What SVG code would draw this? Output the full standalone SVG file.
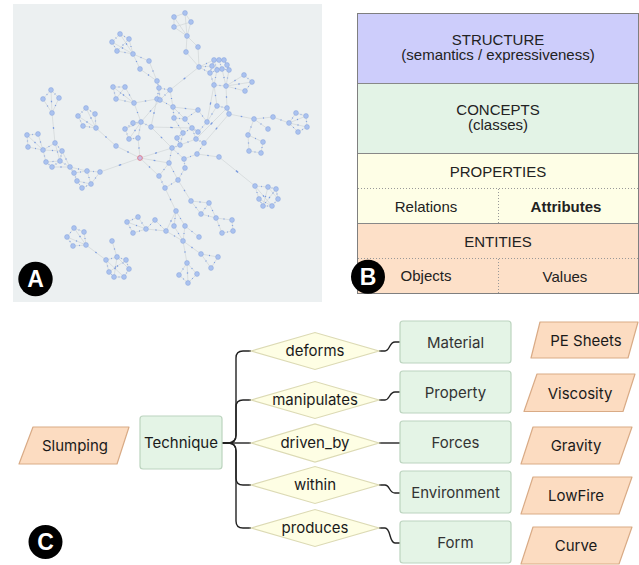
<svg xmlns="http://www.w3.org/2000/svg" width="639" height="565" viewBox="0 0 639 565">
<style>
.bt{font-family:"Liberation Sans",Arial,sans-serif;font-size:15px;fill:#222;text-anchor:middle}
.ct{font-family:Inter,"Liberation Sans",sans-serif;font-size:15px;fill:#1a1a1a;text-anchor:middle}
.gt{fill:#333}
.lbl{font-family:"Liberation Sans",Arial,sans-serif;font-size:23px;font-weight:bold;fill:#fff;text-anchor:middle}
.n{fill:#aac2ef;stroke:#8eaadf;stroke-width:0.6}
.sep{stroke:#888;stroke-width:1}
.dot{stroke:#999;stroke-width:1;stroke-dasharray:1 2}
.box{fill:#e4f4e6;stroke:#bcd4bf;stroke-width:1.2}
.dia{fill:#fefee4;stroke:#dcdab4;stroke-width:1.2}
.par{fill:#fcdcc1;stroke:#d9ab86;stroke-width:1.2;stroke-linejoin:round}
.con{fill:none;stroke:#222;stroke-width:1.4}
</style>
<defs>
<g id="edgeset">
<path pathLength="100" d="M174 17L185 13M185 13L191 22M174 17L174 27M174 17L187 36M185 13L187 36M191 22L187 36M174 27L187 36M174 27L191 22M187 36L186 52M187 36L198 47M186 52L199 67M198 47L199 67"/>
<path pathLength="100" d="M199 67L214 60"/><path pathLength="100" d="M199 67L212 66"/><path pathLength="100" d="M199 67L210 73"/>
<path pathLength="100" d="M214 60L219 60"/><path pathLength="100" d="M219 60L224 60"/><path pathLength="100" d="M224 60L227 65"/><path pathLength="100" d="M227 65L229 70"/><path pathLength="100" d="M214 60L212 66"/><path pathLength="100" d="M212 66L210 73"/><path pathLength="100" d="M210 73L217 70"/><path pathLength="100" d="M217 70L222 69"/><path pathLength="100" d="M222 69L229 70"/><path pathLength="100" d="M214 60L217 70"/><path pathLength="100" d="M219 60L222 69"/><path pathLength="100" d="M224 60L229 70"/><path pathLength="100" d="M212 66L222 69"/><path pathLength="100" d="M210 73L214 85"/><path pathLength="100" d="M217 70L214 85"/><path pathLength="100" d="M229 70L226 86"/><path pathLength="100" d="M222 69L226 86"/><path pathLength="100" d="M214 85L226 86"/>
<path pathLength="100" d="M226 86L244 75"/><path pathLength="100" d="M226 86L252 82"/><path pathLength="100" d="M226 86L245 91"/><path pathLength="100" d="M244 75L252 82"/><path pathLength="100" d="M252 82L245 91"/>
<path pathLength="100" d="M199 67L170 90"/><path pathLength="100" d="M214 85L207 122"/><path pathLength="100" d="M226 86L227 108"/><path pathLength="100" d="M214 85L217 106"/>
<path pathLength="100" d="M133 54L120 34"/><path pathLength="100" d="M133 54L129 39"/><path pathLength="100" d="M133 54L112 42"/><path pathLength="100" d="M133 54L117 51"/><path pathLength="100" d="M120 34L129 39"/><path pathLength="100" d="M112 42L117 51"/><path pathLength="100" d="M120 34L112 42"/><path pathLength="100" d="M129 39L117 51"/><path pathLength="100" d="M133 54L140 69"/><path pathLength="100" d="M133 54L149 61"/><path pathLength="100" d="M140 69L157 81"/><path pathLength="100" d="M149 61L157 81"/>
<path pathLength="100" d="M157 81L159 88"/><path pathLength="100" d="M159 88L170 90"/><path pathLength="100" d="M159 88L157 99"/><path pathLength="100" d="M159 88L160 100"/><path pathLength="100" d="M170 90L160 100"/><path pathLength="100" d="M160 100L173 107"/><path pathLength="100" d="M170 90L173 107"/><path pathLength="100" d="M157 99L151 127"/><path pathLength="100" d="M160 100L141 122"/><path pathLength="100" d="M173 107L174 118"/><path pathLength="100" d="M173 107L185 119"/>
<path pathLength="100" d="M134 103L113 87"/><path pathLength="100" d="M134 103L125 87"/><path pathLength="100" d="M134 103L116 99"/><path pathLength="100" d="M113 87L125 87"/><path pathLength="100" d="M113 87L116 99"/><path pathLength="100" d="M125 87L116 99"/><path pathLength="100" d="M134 103L157 99"/><path pathLength="100" d="M134 103L141 122"/>
<path pathLength="100" d="M141 122L125 129"/><path pathLength="100" d="M141 122L133 123"/><path pathLength="100" d="M141 122L129 139"/><path pathLength="100" d="M141 122L138 138"/><path pathLength="100" d="M125 129L133 123"/><path pathLength="100" d="M129 139L138 138"/><path pathLength="100" d="M125 129L129 139"/><path pathLength="100" d="M141 122L151 127"/><path pathLength="100" d="M138 138L140 158"/><path pathLength="100" d="M151 127L192 128"/><path pathLength="100" d="M151 127L172 148"/>
<path pathLength="100" d="M52 113L51 90"/><path pathLength="100" d="M52 113L43 99"/><path pathLength="100" d="M52 113L59 98"/><path pathLength="100" d="M51 90L43 99"/><path pathLength="100" d="M51 90L59 98"/><path pathLength="100" d="M52 113L55 143"/>
<path pathLength="100" d="M55 143L43 150"/><path pathLength="100" d="M55 143L62 151"/><path pathLength="100" d="M43 150L27 135"/><path pathLength="100" d="M43 150L38 134"/><path pathLength="100" d="M43 150L28 147"/><path pathLength="100" d="M27 135L38 134"/><path pathLength="100" d="M27 135L28 147"/><path pathLength="100" d="M43 150L46 162"/><path pathLength="100" d="M46 162L52 167"/><path pathLength="100" d="M52 167L60 161"/><path pathLength="100" d="M60 161L62 151"/><path pathLength="100" d="M43 150L62 151"/><path pathLength="100" d="M46 162L60 161"/><path pathLength="100" d="M55 143L60 161"/><path pathLength="100" d="M62 151L70 167"/><path pathLength="100" d="M52 167L70 167"/><path pathLength="100" d="M60 161L70 167"/>
<path pathLength="100" d="M70 167L74 173"/><path pathLength="100" d="M70 167L87 171"/><path pathLength="100" d="M74 173L77 181"/><path pathLength="100" d="M77 181L82 188"/><path pathLength="100" d="M82 188L91 184"/><path pathLength="100" d="M91 184L100 172"/><path pathLength="100" d="M87 171L100 172"/><path pathLength="100" d="M87 171L91 184"/><path pathLength="100" d="M74 173L87 171"/><path pathLength="100" d="M77 181L91 184"/><path pathLength="100" d="M100 172L140 158"/>
<path pathLength="100" d="M96 128L86 108"/><path pathLength="100" d="M96 128L95 114"/><path pathLength="100" d="M96 128L78 116"/><path pathLength="100" d="M96 128L83 126"/><path pathLength="100" d="M86 108L95 114"/><path pathLength="100" d="M78 116L83 126"/><path pathLength="100" d="M86 108L78 116"/><path pathLength="100" d="M96 128L116 146"/><path pathLength="100" d="M116 146L140 158"/>
<path pathLength="100" d="M140 158L172 148"/><path pathLength="100" d="M140 158L159 176"/><path pathLength="100" d="M140 158L169 163"/>
<path pathLength="100" d="M174 118L183 133"/><path pathLength="100" d="M185 119L192 128"/><path pathLength="100" d="M192 128L196 139"/><path pathLength="100" d="M183 133L177 138"/><path pathLength="100" d="M177 138L180 145"/><path pathLength="100" d="M180 145L172 148"/><path pathLength="100" d="M196 139L204 143"/><path pathLength="100" d="M207 122L198 132"/><path pathLength="100" d="M198 132L192 128"/><path pathLength="100" d="M198 110L207 122"/><path pathLength="100" d="M198 110L185 119"/><path pathLength="100" d="M172 148L169 163"/><path pathLength="100" d="M169 163L159 176"/><path pathLength="100" d="M159 176L165 188"/><path pathLength="100" d="M165 188L178 180"/><path pathLength="100" d="M178 180L169 163"/><path pathLength="100" d="M184 159L185 168"/><path pathLength="100" d="M184 159L172 148"/><path pathLength="100" d="M197 154L184 159"/><path pathLength="100" d="M197 154L219 157"/><path pathLength="100" d="M204 143L197 154"/><path pathLength="100" d="M185 168L178 180"/><path pathLength="100" d="M183 133L180 145"/><path pathLength="100" d="M174 118L185 119"/><path pathLength="100" d="M192 128L183 133"/><path pathLength="100" d="M180 145L196 139"/><path pathLength="100" d="M207 122L217 106"/><path pathLength="100" d="M173 107L198 110"/>
<path pathLength="100" d="M217 106L227 108"/><path pathLength="100" d="M227 108L229 114"/><path pathLength="100" d="M229 114L254 119"/><path pathLength="100" d="M254 119L273 117"/><path pathLength="100" d="M273 117L289 123"/><path pathLength="100" d="M254 119L268 129"/><path pathLength="100" d="M254 119L248 135"/><path pathLength="100" d="M248 135L263 142"/><path pathLength="100" d="M248 135L249 151"/><path pathLength="100" d="M263 142L261 153"/><path pathLength="100" d="M249 151L261 153"/><path pathLength="100" d="M227 108L196 139"/><path pathLength="100" d="M229 114L204 143"/>
<path pathLength="100" d="M289 123L296 113"/><path pathLength="100" d="M289 123L306 116"/><path pathLength="100" d="M289 123L307 127"/><path pathLength="100" d="M289 123L298 132"/><path pathLength="100" d="M296 113L306 116"/><path pathLength="100" d="M306 116L307 127"/><path pathLength="100" d="M307 127L298 132"/>
<path pathLength="100" d="M219 157L255 186"/><path pathLength="100" d="M255 186L268 187"/><path pathLength="100" d="M268 187L276 189"/><path pathLength="100" d="M255 186L259 199"/><path pathLength="100" d="M259 199L263 206"/><path pathLength="100" d="M263 206L272 206"/><path pathLength="100" d="M272 206L278 199"/><path pathLength="100" d="M278 199L276 189"/><path pathLength="100" d="M255 186L272 206"/><path pathLength="100" d="M268 187L263 206"/><path pathLength="100" d="M268 187L278 199"/><path pathLength="100" d="M259 199L272 206"/><path pathLength="100" d="M276 189L263 206"/>
<path pathLength="100" d="M165 188L176 211"/><path pathLength="100" d="M178 180L191 201"/><path pathLength="100" d="M176 211L174 226"/><path pathLength="100" d="M176 211L185 226"/><path pathLength="100" d="M176 211L166 231"/><path pathLength="100" d="M174 226L183 241"/><path pathLength="100" d="M185 226L183 241"/><path pathLength="100" d="M185 226L199 237"/><path pathLength="100" d="M166 231L183 241"/><path pathLength="100" d="M191 201L209 203"/><path pathLength="100" d="M191 201L201 214"/><path pathLength="100" d="M209 203L201 214"/><path pathLength="100" d="M201 214L216 218"/><path pathLength="100" d="M216 218L232 220"/><path pathLength="100" d="M232 220L233 231"/><path pathLength="100" d="M216 218L222 233"/><path pathLength="100" d="M222 233L233 231"/><path pathLength="100" d="M209 203L216 218"/>
<path pathLength="100" d="M146 229L127 222"/><path pathLength="100" d="M146 229L138 217"/><path pathLength="100" d="M146 229L133 233"/><path pathLength="100" d="M127 222L138 217"/><path pathLength="100" d="M127 222L133 233"/><path pathLength="100" d="M146 229L155 220"/><path pathLength="100" d="M155 220L166 231"/><path pathLength="100" d="M146 229L166 231"/>
<path pathLength="100" d="M183 241L201 254"/><path pathLength="100" d="M183 241L187 263"/><path pathLength="100" d="M201 254L218 257"/><path pathLength="100" d="M201 254L211 268"/><path pathLength="100" d="M218 257L211 268"/><path pathLength="100" d="M187 263L179 275"/><path pathLength="100" d="M187 263L197 274"/><path pathLength="100" d="M187 263L188 283"/><path pathLength="100" d="M179 275L188 283"/><path pathLength="100" d="M197 274L188 283"/>
<path pathLength="100" d="M86 245L74 228"/><path pathLength="100" d="M86 245L84 232"/><path pathLength="100" d="M86 245L67 237"/><path pathLength="100" d="M86 245L73 246"/><path pathLength="100" d="M74 228L84 232"/><path pathLength="100" d="M67 237L73 246"/><path pathLength="100" d="M74 228L67 237"/><path pathLength="100" d="M86 245L106 260"/>
<path pathLength="100" d="M112 241L117 257"/><path pathLength="100" d="M106 260L117 257"/><path pathLength="100" d="M117 257L126 260"/><path pathLength="100" d="M126 260L129 269"/><path pathLength="100" d="M129 269L124 277"/><path pathLength="100" d="M124 277L114 277"/><path pathLength="100" d="M114 277L109 272"/><path pathLength="100" d="M109 272L106 260"/><path pathLength="100" d="M106 260L124 277"/><path pathLength="100" d="M117 257L114 277"/><path pathLength="100" d="M126 260L109 272"/><path pathLength="100" d="M117 257L129 269"/>
</g>
</defs>

<g id="panelA">
<rect x="13" y="4" width="309" height="298" fill="#ecf0f1"/>
<use href="#edgeset" fill="none" stroke="#cdd1d4" stroke-width="0.6"/>
<use href="#edgeset" fill="none" stroke="#7a9be0" stroke-width="1.3" stroke-dasharray="0 47 6 47"/>
<g class="n">
<circle cx="174" cy="17" r="2.4"/><circle cx="185" cy="13" r="2.4"/><circle cx="191" cy="22" r="2.4"/><circle cx="174" cy="27" r="2.4"/><circle cx="187" cy="36" r="2.4"/><circle cx="186" cy="52" r="2.4"/><circle cx="198" cy="47" r="2.4"/>
<circle cx="199" cy="67" r="2.4"/><circle cx="214" cy="60" r="2.4"/><circle cx="219" cy="60" r="2.4"/><circle cx="224" cy="60" r="2.4"/><circle cx="210" cy="73" r="2.4"/><circle cx="217" cy="70" r="2.4"/><circle cx="222" cy="69" r="2.4"/><circle cx="229" cy="70" r="2.4"/><circle cx="212" cy="66" r="2.4"/><circle cx="227" cy="65" r="2.4"/><circle cx="214" cy="85" r="2.4"/><circle cx="226" cy="86" r="2.4"/>
<circle cx="244" cy="75" r="2.4"/><circle cx="252" cy="82" r="2.4"/><circle cx="245" cy="91" r="2.4"/>
<circle cx="120" cy="34" r="2.4"/><circle cx="129" cy="39" r="2.4"/><circle cx="112" cy="42" r="2.4"/><circle cx="117" cy="51" r="2.4"/><circle cx="133" cy="54" r="2.4"/><circle cx="140" cy="69" r="2.4"/><circle cx="149" cy="61" r="2.4"/><circle cx="157" cy="81" r="2.4"/>
<circle cx="159" cy="88" r="2.4"/><circle cx="170" cy="90" r="2.4"/><circle cx="157" cy="99" r="2.4"/><circle cx="160" cy="100" r="2.4"/><circle cx="173" cy="107" r="2.4"/>
<circle cx="113" cy="87" r="2.4"/><circle cx="125" cy="87" r="2.4"/><circle cx="116" cy="99" r="2.4"/><circle cx="134" cy="103" r="2.4"/>
<circle cx="125" cy="129" r="2.4"/><circle cx="133" cy="123" r="2.4"/><circle cx="129" cy="139" r="2.4"/><circle cx="138" cy="138" r="2.4"/><circle cx="141" cy="122" r="2.4"/><circle cx="151" cy="127" r="2.4"/>
<circle cx="51" cy="90" r="2.4"/><circle cx="43" cy="99" r="2.4"/><circle cx="59" cy="98" r="2.4"/><circle cx="52" cy="113" r="2.4"/>
<circle cx="27" cy="135" r="2.4"/><circle cx="38" cy="134" r="2.4"/><circle cx="28" cy="147" r="2.4"/><circle cx="43" cy="150" r="2.4"/><circle cx="55" cy="143" r="2.4"/><circle cx="62" cy="151" r="2.4"/><circle cx="46" cy="162" r="2.4"/><circle cx="52" cy="167" r="2.4"/><circle cx="60" cy="161" r="2.4"/><circle cx="70" cy="167" r="2.4"/>
<circle cx="74" cy="173" r="2.4"/><circle cx="87" cy="171" r="2.4"/><circle cx="100" cy="172" r="2.4"/><circle cx="77" cy="181" r="2.4"/><circle cx="82" cy="188" r="2.4"/><circle cx="91" cy="184" r="2.4"/>
<circle cx="86" cy="108" r="2.4"/><circle cx="95" cy="114" r="2.4"/><circle cx="78" cy="116" r="2.4"/><circle cx="83" cy="126" r="2.4"/><circle cx="96" cy="128" r="2.4"/><circle cx="116" cy="146" r="2.4"/>
<circle cx="172" cy="148" r="2.4"/><circle cx="169" cy="163" r="2.4"/><circle cx="159" cy="176" r="2.4"/><circle cx="165" cy="188" r="2.4"/><circle cx="178" cy="180" r="2.4"/><circle cx="184" cy="159" r="2.4"/><circle cx="185" cy="168" r="2.4"/><circle cx="197" cy="154" r="2.4"/><circle cx="219" cy="157" r="2.4"/><circle cx="174" cy="118" r="2.4"/><circle cx="185" cy="119" r="2.4"/><circle cx="192" cy="128" r="2.4"/><circle cx="183" cy="133" r="2.4"/><circle cx="177" cy="138" r="2.4"/><circle cx="180" cy="145" r="2.4"/><circle cx="196" cy="139" r="2.4"/><circle cx="204" cy="143" r="2.4"/><circle cx="198" cy="132" r="2.4"/><circle cx="207" cy="122" r="2.4"/><circle cx="198" cy="110" r="2.4"/>
<circle cx="217" cy="106" r="2.4"/><circle cx="227" cy="108" r="2.4"/><circle cx="229" cy="114" r="2.4"/><circle cx="254" cy="119" r="2.4"/><circle cx="273" cy="117" r="2.4"/><circle cx="268" cy="129" r="2.4"/><circle cx="248" cy="135" r="2.4"/><circle cx="263" cy="142" r="2.4"/><circle cx="261" cy="153" r="2.4"/><circle cx="249" cy="151" r="2.4"/>
<circle cx="289" cy="123" r="2.4"/><circle cx="296" cy="113" r="2.4"/><circle cx="306" cy="116" r="2.4"/><circle cx="307" cy="127" r="2.4"/><circle cx="298" cy="132" r="2.4"/>
<circle cx="255" cy="186" r="2.4"/><circle cx="268" cy="187" r="2.4"/><circle cx="276" cy="189" r="2.4"/><circle cx="259" cy="199" r="2.4"/><circle cx="278" cy="199" r="2.4"/><circle cx="263" cy="206" r="2.4"/><circle cx="272" cy="206" r="2.4"/>
<circle cx="176" cy="211" r="2.4"/><circle cx="174" cy="226" r="2.4"/><circle cx="185" cy="226" r="2.4"/><circle cx="166" cy="231" r="2.4"/><circle cx="183" cy="241" r="2.4"/><circle cx="199" cy="237" r="2.4"/><circle cx="191" cy="201" r="2.4"/><circle cx="209" cy="203" r="2.4"/><circle cx="201" cy="214" r="2.4"/><circle cx="216" cy="218" r="2.4"/><circle cx="232" cy="220" r="2.4"/><circle cx="233" cy="231" r="2.4"/><circle cx="222" cy="233" r="2.4"/>
<circle cx="127" cy="222" r="2.4"/><circle cx="138" cy="217" r="2.4"/><circle cx="133" cy="233" r="2.4"/><circle cx="146" cy="229" r="2.4"/><circle cx="155" cy="220" r="2.4"/>
<circle cx="201" cy="254" r="2.4"/><circle cx="218" cy="257" r="2.4"/><circle cx="211" cy="268" r="2.4"/><circle cx="187" cy="263" r="2.4"/><circle cx="179" cy="275" r="2.4"/><circle cx="197" cy="274" r="2.4"/><circle cx="188" cy="283" r="2.4"/>
<circle cx="74" cy="228" r="2.4"/><circle cx="84" cy="232" r="2.4"/><circle cx="67" cy="237" r="2.4"/><circle cx="73" cy="246" r="2.4"/><circle cx="86" cy="245" r="2.4"/>
<circle cx="112" cy="241" r="2.4"/><circle cx="106" cy="260" r="2.4"/><circle cx="117" cy="257" r="2.4"/><circle cx="126" cy="260" r="2.4"/><circle cx="129" cy="269" r="2.4"/><circle cx="124" cy="277" r="2.4"/><circle cx="114" cy="277" r="2.4"/><circle cx="109" cy="272" r="2.4"/>
</g>
<circle cx="140" cy="158" r="2.4" fill="#c9bde6" stroke="#e0707e" stroke-width="0.8"/>
<circle cx="35.5" cy="279" r="17.2" fill="#000"/>
<text class="lbl" x="35.5" y="287.3">A</text>
</g>

<g id="panelB">
<rect x="357.5" y="13.5" width="281" height="70" fill="#cdcdfb"/>
<rect x="357.5" y="83.5" width="281" height="70" fill="#e3f3e6"/>
<rect x="357.5" y="153.5" width="281" height="70" fill="#fefee6"/>
<rect x="357.5" y="223.5" width="281" height="70" fill="#fde0c8"/>
<line class="sep" x1="357.5" y1="83.5" x2="638.5" y2="83.5"/>
<line class="sep" x1="357.5" y1="153.5" x2="638.5" y2="153.5"/>
<line class="sep" x1="357.5" y1="223.5" x2="638.5" y2="223.5"/>
<line class="dot" x1="358" y1="188.5" x2="638" y2="188.5"/>
<line class="dot" x1="498.5" y1="189" x2="498.5" y2="223"/>
<line class="dot" x1="358" y1="258.5" x2="638" y2="258.5"/>
<line class="dot" x1="498.5" y1="259" x2="498.5" y2="293"/>
<rect x="357.5" y="13.5" width="281" height="280" fill="none" stroke="#7f7f7f" stroke-width="1"/>
<text class="bt" x="498" y="45">STRUCTURE</text>
<text class="bt" x="498" y="60">(semantics / expressiveness)</text>
<text class="bt" x="498" y="115">CONCEPTS</text>
<text class="bt" x="498" y="130">(classes)</text>
<text class="bt" x="498" y="176.5">PROPERTIES</text>
<text class="bt" x="426" y="212">Relations</text>
<text class="bt" x="566" y="212" font-weight="bold">Attributes</text>
<text class="bt" x="498" y="246.5">ENTITIES</text>
<text class="bt" x="426" y="281">Objects</text>
<text class="bt" x="565" y="281.5">Values</text>
<circle cx="368" cy="276.7" r="17" fill="#000"/>
<text class="lbl" x="368" y="285">B</text>
</g>

<g id="panelC">
<g id="connectors">
<path class="con" d="M222 443H228Q236 443 236 435V358Q236 351 243 351H251"/>
<path class="con" d="M222 443H228Q236 443 236 435V407Q236 400 243 400H251"/>
<path class="con" d="M222 443H251"/>
<path class="con" d="M222 443H228Q236 443 236 451V478Q236 485 243 485H251"/>
<path class="con" d="M222 443H228Q236 443 236 451V521Q236 528 243 528H251"/>
<path class="con" d="M379 351H385C390 351 389 342 395 342H400"/>
<path class="con" d="M379 400H385C390 400 389 392 395 392H400"/>
<path class="con" d="M379 443H400"/>
<path class="con" d="M379 485H385C390 485 389 493 395 493H400"/>
<path class="con" d="M379 528H385C391 528 389 543 395 543H400"/>
</g>
<g id="slumping"><polygon class="par" points="33,427 129,427 117,464 19,464"/><text class="ct" x="75" y="451">Slumping</text></g>
<g id="technique"><rect class="box" x="140" y="416" width="82" height="53" rx="3"/><text class="ct" x="181" y="448">Technique</text></g>
<g id="deforms"><polygon class="dia" points="251,351 315,332.5 379,351 315,369.5"/><text class="ct" x="315" y="356">deforms</text></g>
<g id="manipulates"><polygon class="dia" points="251,400 315,381.5 379,400 315,418.5"/><text class="ct" x="315" y="405">manipulates</text></g>
<g id="driven_by"><polygon class="dia" points="251,443 315,424 379,443 315,462"/><text class="ct" x="315" y="448">driven_by</text></g>
<g id="within"><polygon class="dia" points="251,485 315,466.5 379,485 315,503.5"/><text class="ct" x="315" y="490">within</text></g>
<g id="produces"><polygon class="dia" points="251,528 315,509.5 379,528 315,546.5"/><text class="ct" x="315" y="533">produces</text></g>
<g id="material"><rect class="box" x="400" y="321" width="111" height="42" rx="3"/><text class="ct gt" x="455.5" y="348">Material</text></g>
<g id="property"><rect class="box" x="400" y="371" width="111" height="42" rx="3"/><text class="ct gt" x="455.5" y="398">Property</text></g>
<g id="forces"><rect class="box" x="400" y="421" width="111" height="42" rx="3"/><text class="ct gt" x="455.5" y="448">Forces</text></g>
<g id="environment"><rect class="box" x="400" y="471" width="111" height="42" rx="3"/><text class="ct gt" x="455.5" y="498">Environment</text></g>
<g id="form"><rect class="box" x="400" y="521" width="111" height="42" rx="3"/><text class="ct gt" x="455.5" y="548">Form</text></g>
<g id="pesheets"><polygon class="par" points="540,322 638,322 628,358 531,358"/><text class="ct" x="586" y="346">PE Sheets</text></g>
<g id="viscosity"><polygon class="par" points="537,374 635,374 623,411.5 524,411.5"/><text class="ct" x="580" y="398.5">Viscosity</text></g>
<g id="gravity"><polygon class="par" points="533,427 632,427 619,464 521,464"/><text class="ct" x="576" y="451">Gravity</text></g>
<g id="lowfire"><polygon class="par" points="533,477 632,477 619,514 521,514"/><text class="ct" x="576" y="501">LowFire</text></g>
<g id="curve"><polygon class="par" points="533,527 632,527 619,564 521,564"/><text class="ct" x="576" y="551">Curve</text></g>
<circle cx="45.5" cy="542" r="17" fill="#000"/>
<text class="lbl" x="45.5" y="550.3">C</text>
</g>
</svg>
